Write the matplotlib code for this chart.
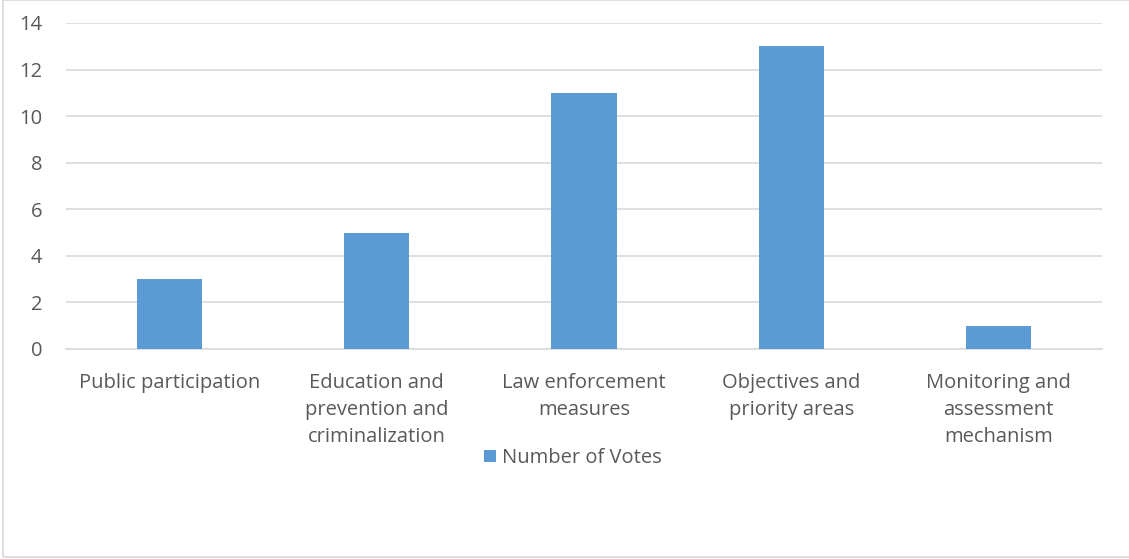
import matplotlib
matplotlib.use("Agg")
from matplotlib import pyplot as plt
from matplotlib.patches import Rectangle

# chart data
categories = ["Public participation",
              "Education and\nprevention and\ncriminalization",
              "Law enforcement\nmeasures",
              "Objectives and\npriority areas",
              "Monitoring and\nassessment\nmechanism"]
votes = [3, 5, 11, 13, 1]
series_name = "Number of Votes"
yticks = [0, 2, 4, 6, 8, 10, 12, 14]

plt.rcParams['font.family'] = ['Open Sans', 'DejaVu Sans']
text_col = '#595959'
grid_col = '#D9D9D9'
fs = 14.5

fig = plt.figure(figsize=(11.29, 5.59), dpi=100)
ax = fig.add_axes([66/1129, 1 - 349/559, 1036/1129, 326/559])

x = list(range(len(categories)))
ax.bar(x, votes, width=0.315, color='#5B9BD5', label=series_name, zorder=3)

ax.set_xlim(-0.5, len(categories) - 0.5)
ax.set_ylim(0, 14)
ax.set_yticks(yticks)
ax.yaxis.grid(True, color=grid_col, linewidth=1.2, zorder=0)
ax.set_xticks(x)
ax.set_xticklabels(categories, linespacing=1.49)
ax.tick_params(axis='both', length=0, labelsize=fs, colors=text_col)
ax.tick_params(axis='x', pad=17)
ax.tick_params(axis='y', pad=17)
for lbl in ax.get_xticklabels():
    lbl.set_verticalalignment('top')

for s in ['top', 'right', 'left']:
    ax.spines[s].set_visible(False)
ax.spines['bottom'].set_color(grid_col)
ax.spines['bottom'].set_linewidth(1.2)

leg = ax.legend(loc='center', bbox_to_anchor=(573/1129, 1 - 458/559),
                bbox_transform=fig.transFigure, frameon=False,
                fontsize=fs, handlelength=0.6, handleheight=0.6,
                handletextpad=0.3)
for t in leg.get_texts():
    t.set_color(text_col)

# outer chart border
fig.patches.append(Rectangle((3/1129, 1 - 557/559), 1.2, 557/559,
                             transform=fig.transFigure, fill=False,
                             edgecolor=grid_col, linewidth=1.2))

fig.savefig("out.png", dpi=100)
